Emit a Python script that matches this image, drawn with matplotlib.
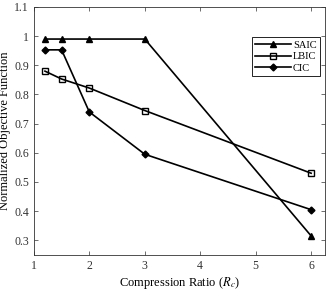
import matplotlib
matplotlib.use("Agg")
import matplotlib.pyplot as plt

plt.rcParams['font.family'] = ['Liberation Serif', 'DejaVu Serif']
plt.rcParams['mathtext.fontset'] = 'stix'

ratios = [1.2, 1.5, 2, 3, 6]
saic = [0.99, 0.99, 0.99, 0.99, 0.315]
lbic = [0.88, 0.853, 0.822, 0.745, 0.53]
cic = [0.953, 0.953, 0.74, 0.595, 0.405]

fig = plt.figure(figsize=(3.32, 2.90), dpi=100)
ax = fig.add_axes([0.102, 0.121, 0.877, 0.855])

ax.plot(ratios, saic, 'k-^', lw=1.2, ms=5, label='SAIC')
ax.plot(ratios, lbic, 'k-s', lw=1.2, ms=4.5, mfc='none', mew=1.0, label='LBIC')
ax.plot(ratios, cic, 'k-D', lw=1.2, ms=3.5, label='CIC')

ax.set_xlim(1, 6.25)
ax.set_ylim(0.25, 1.1)
ax.set_xticks([1, 2, 3, 4, 5, 6])
ax.set_yticks([0.3, 0.4, 0.5, 0.6, 0.7, 0.8, 0.9, 1.0, 1.1])
ax.set_yticklabels(['0.3', '0.4', '0.5', '0.6', '0.7', '0.8', '0.9', '1', '1.1'])
ax.tick_params(direction='in', top=True, right=True, labelsize=8.5, length=3, width=0.5, colors='#333333')
for s in ax.spines.values():
    s.set_linewidth(0.6)
    s.set_color('#333333')

ax.set_xlabel(r'Compression Ratio ($R_c$)', fontsize=9, labelpad=2)
ax.set_ylabel('Normalized Objective Function', fontsize=9, labelpad=2)

leg = ax.legend(loc='upper right', bbox_to_anchor=(0.983, 0.879), fontsize=7.5, frameon=True,
                fancybox=False, edgecolor='black', framealpha=1, handlelength=3.4,
                handletextpad=0.2, borderpad=0.35, labelspacing=0.2, borderaxespad=0)
leg.get_frame().set_linewidth(0.6)

fig.savefig('out.png', dpi=100)
